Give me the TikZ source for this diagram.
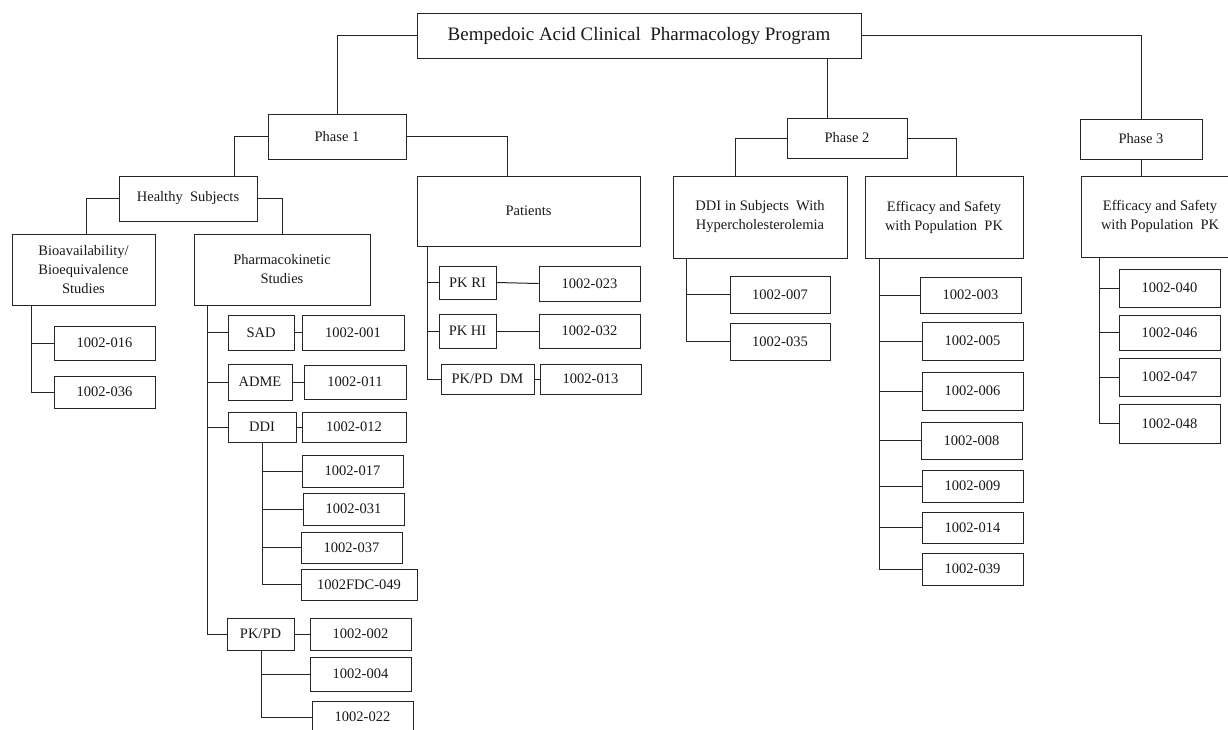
\documentclass[tikz,border=0pt]{standalone}
\usepackage{fontspec}
\setmainfont{Liberation Serif}
\begin{document}
\begin{tikzpicture}[x=1pt,y=-1pt,
  box/.style={draw=black!85, line width=1pt, inner sep=0pt, align=center,
    font=\fontsize{14.5}{19}\selectfont, text=black!90},
  conn/.style={draw=black!85, line width=1pt}]
\newcommand\mybox[6]{%
  \pgfmathsetmacro\bw{#4-#2}\pgfmathsetmacro\bh{#5-#3}%
  \pgfmathsetmacro\cxx{(#2+#4)/2}\pgfmathsetmacro\cyy{(#3+#5)/2}%
  \node[box,minimum width=\bw pt,minimum height=\bh pt] (#1) at (\cxx,\cyy) {#6};}
\useasboundingbox (0,0) rectangle (1228,729);
\fill[white] (0,0) rectangle (1228,729);
\clip (0,0) rectangle (1228,729);
% trunk x positions
\coordinate (t827) at (827,0);
\coordinate (t234) at (234,0);
\coordinate (t507) at (507,0);
\coordinate (t86) at (86,0);
\coordinate (t735) at (735,0);
\coordinate (t956) at (956,0);
\coordinate (t31) at (31,0);
\coordinate (t207) at (207,0);
\coordinate (t262) at (262,0);
\coordinate (t261) at (261,0);
\coordinate (t427) at (427,0);
\coordinate (t686) at (686,0);
\coordinate (t879) at (879,0);
\coordinate (t1099) at (1099,0);
% boxes
\mybox{root}{417}{13}{861}{58}{\fontsize{19}{22}\selectfont Bempedoic Acid Clinical\ \ Pharmacology Program}
\mybox{p1}{268}{114}{406}{159}{Phase 1}
\mybox{p2}{787}{118}{907}{158}{Phase 2}
\mybox{p3}{1080}{119}{1202}{159}{Phase 3}
\mybox{hs}{119}{176}{257}{221}{Healthy\ \ Subjects}
\mybox{pat}{417}{176}{640}{246}{Patients}
\mybox{ddih}{673}{176}{847}{258}{DDI in Subjects\ \ With\\Hypercholesterolemia}
\mybox{eff2}{865}{176}{1023}{258}{Efficacy and Safety\\with Population\ \ PK}
\mybox{eff3}{1081}{176}{1239}{257}{Efficacy and Safety\\with Population\ \ PK}
\mybox{bio}{12}{234}{155}{305}{Bioavailability/\\Bioequivalence\\Studies}
\mybox{pks}{194}{234}{370}{305}{Pharmacokinetic\\Studies}
\mybox{b016}{54}{326}{155}{360}{1002-016}
\mybox{b036}{54}{376}{155}{408}{1002-036}
\mybox{sad}{228}{315}{294}{350}{SAD}
\mybox{s001}{302}{315}{404}{350}{1002-001}
\mybox{adme}{228}{364}{292}{400}{ADME}
\mybox{s011}{304}{365}{406}{399}{1002-011}
\mybox{ddi}{228}{412}{296}{442}{DDI}
\mybox{s012}{302}{412}{406}{442}{1002-012}
\mybox{s017}{302}{455}{403}{487}{1002-017}
\mybox{s031}{303}{493}{404}{525}{1002-031}
\mybox{s037}{301}{532}{402}{563}{1002-037}
\mybox{s049}{301}{569}{417}{600}{1002FDC-049}
\mybox{pkpd}{227}{618}{294}{650}{PK/PD}
\mybox{s002}{310}{618}{411}{650}{1002-002}
\mybox{s004}{310}{657}{411}{691}{1002-004}
\mybox{s022}{312}{701}{413}{733}{1002-022}
\mybox{pkri}{439}{266}{496}{299}{PK RI}
\mybox{s023}{539}{266}{640}{301}{1002-023}
\mybox{pkhi}{439}{314}{496}{348}{PK HI}
\mybox{s032}{539}{314}{640}{348}{1002-032}
\mybox{pkpddm}{441}{364}{534}{394}{PK/PD\ \ DM}
\mybox{s013}{540}{364}{641}{394}{1002-013}
\mybox{s007}{730}{276}{830}{313}{1002-007}
\mybox{s035}{730}{323}{830}{360}{1002-035}
\mybox{s003}{920}{277}{1021}{313}{1002-003}
\mybox{s005}{922}{322}{1023}{360}{1002-005}
\mybox{s006}{922}{372}{1023}{410}{1002-006}
\mybox{s008}{921}{422}{1022}{459}{1002-008}
\mybox{s009}{922}{470}{1023}{502}{1002-009}
\mybox{s014}{922}{512}{1023}{543}{1002-014}
\mybox{s039}{922}{553}{1023}{585}{1002-039}
\mybox{s040}{1119}{269}{1220}{307}{1002-040}
\mybox{s046}{1119}{315}{1220}{350}{1002-046}
\mybox{s047}{1119}{358}{1220}{396}{1002-047}
\mybox{s048}{1119}{404}{1220}{443}{1002-048}
% top-level connectors
\draw[conn] (root.west) -| (p1.north);
\draw[conn] (root.east) -| (p3.north);
\draw[conn] (root.south -| t827) -- (p2.north -| t827);
\draw[conn] (p1.west) -| (hs.north -| t234);
\draw[conn] (p1.east) -| (pat.north -| t507);
\draw[conn] (hs.west) -| (bio.north -| t86);
\draw[conn] (hs.east) -| (pks.north);
\draw[conn] (p2.west) -| (ddih.north -| t735);
\draw[conn] (p2.east) -| (eff2.north -| t956);
\draw[conn] (p3.south) -- (eff3.north -| p3.south);
% bio
\draw[conn] (bio.south -| t31) |- (b036.west);
\draw[conn] (b016.west -| t31) -- (b016.west);
% pk studies
\draw[conn] (pks.south -| t207) |- (pkpd.west);
\foreach \n in {sad,adme,ddi} \draw[conn] (\n.west -| t207) -- (\n.west);
\draw[conn] (sad.east) -- (s001.west);
\draw[conn] (adme.east) -- (s011.west);
\draw[conn] (ddi.east) -- (s012.west);
\draw[conn] (pkpd.east) -- (s002.west);
\draw[conn] (ddi.south -| t262) |- (s049.west);
\foreach \n in {s017,s031,s037} \draw[conn] (\n.west -| t262) -- (\n.west);
\draw[conn] (pkpd.south -| t261) |- (s022.west);
\draw[conn] (s004.west -| t261) -- (s004.west);
% patients
\draw[conn] (pat.south -| t427) |- (pkpddm.west);
\foreach \n in {pkri,pkhi} \draw[conn] (\n.west -| t427) -- (\n.west);
\draw[conn] (pkri.east) -- (s023.west);
\draw[conn] (pkhi.east) -- (s032.west);
\draw[conn] (pkpddm.east) -- (s013.west);
% phase 2
\draw[conn] (ddih.south -| t686) |- (s035.west);
\draw[conn] (s007.west -| t686) -- (s007.west);
\draw[conn] (eff2.south -| t879) |- (s039.west);
\foreach \n in {s003,s005,s006,s008,s009,s014} \draw[conn] (\n.west -| t879) -- (\n.west);
% phase 3
\draw[conn] (eff3.south -| t1099) |- (s048.west);
\foreach \n in {s040,s046,s047} \draw[conn] (\n.west -| t1099) -- (\n.west);
\end{tikzpicture}
\end{document}
